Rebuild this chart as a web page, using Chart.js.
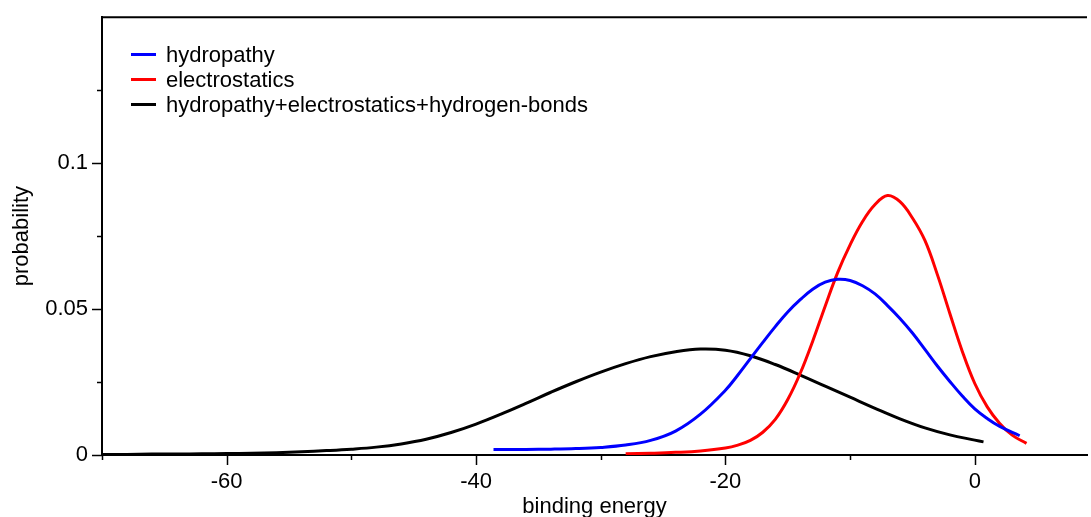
<!DOCTYPE html>
<html>
<head>
<meta charset="utf-8">
<script src="https://cdn.jsdelivr.net/npm/chart.js@4/dist/chart.umd.min.js"></script>
<style>
  html, body { margin: 0; padding: 0; background: #fff; }
  #wrap { position: relative; width: 1091px; height: 517px; }
  #legend { position: absolute; left: 131px; top: 42px; font: 22px "Liberation Sans", Arial, sans-serif; color: #000; }
  .row { height: 25px; line-height: 25px; display: flex; align-items: center; white-space: nowrap; }
  .swatch { width: 25px; height: 3px; margin-right: 10px; }
</style>
</head>
<body>
<div id="wrap">
  <canvas id="chart" width="1091" height="517"></canvas>
  <div id="legend"></div>
</div>
<script>
// values
const seriesLabels = ['hydropathy', 'electrostatics', 'hydropathy+electrostatics+hydrogen-bonds'];
const seriesColors = ['#0000ff', '#ff0000', '#000000'];

const hydroX = [-38.6, -36, -34, -32, -30, -28, -26, -24, -22, -20, -19, -18, -17, -16, -15, -14, -13, -12, -11, -10, -9, -8, -7, -6, -5, -4, -3, -2, -1, 0, 1, 2, 3.6];
const hydroY = [0.0019, 0.0019, 0.0020, 0.0022, 0.0026, 0.0034, 0.0050, 0.0082, 0.0140, 0.0222, 0.0274, 0.0330, 0.0386, 0.0440, 0.0490, 0.0532, 0.0568, 0.0592, 0.0602, 0.0598, 0.0580, 0.0552, 0.0512, 0.0468, 0.0418, 0.0362, 0.0305, 0.0252, 0.0202, 0.0158, 0.0125, 0.0098, 0.0066];

const elecX = [-28, -26, -24, -22, -20, -19, -18, -17, -16, -15, -14, -13, -12, -11, -10, -9, -8, -7, -6, -5, -4, -3, -2, -1, 0, 1, 2, 3, 4.15];
const elecY = [0.0004, 0.0006, 0.0009, 0.0014, 0.0024, 0.0034, 0.0050, 0.0078, 0.0122, 0.0190, 0.0280, 0.0390, 0.0510, 0.0625, 0.0720, 0.0800, 0.0858, 0.0889, 0.0868, 0.0812, 0.0735, 0.0618, 0.0485, 0.0355, 0.0245, 0.0165, 0.0108, 0.0068, 0.0040];

const allX = [-70, -68, -66, -64, -62, -60, -58, -56, -54, -52, -50, -48, -46, -44, -42, -40, -38, -36, -34, -32, -30, -28, -26, -24, -22, -20, -18, -16, -14, -12, -10, -8, -6, -4, -2, 0, 0.7];
const allY = [0.0002, 0.0002, 0.0003, 0.0003, 0.0004, 0.0005, 0.0006, 0.0008, 0.0011, 0.0015, 0.0020, 0.0027, 0.0038, 0.0054, 0.0077, 0.0106, 0.0140, 0.0177, 0.0215, 0.0251, 0.0284, 0.0313, 0.0337, 0.0354, 0.0363, 0.0359, 0.0340, 0.0310, 0.0274, 0.0236, 0.0198, 0.0160, 0.0124, 0.0093, 0.0069, 0.0051, 0.0045];

const xTickValues = [-60, -40, -20, 0];
const xTickLabels = ['-60', '-40', '-20', '0'];
const yTickValues = [0, 0.05, 0.1];
const yTickLabels = ['0', '0.05', '0.1'];

const FONT = { family: '"Liberation Sans", Arial, sans-serif', size: 22 };

function toPoints(xs, ys) {
    return xs.map((x, i) => ({ x: x, y: ys[i] }));
}

function labelFor(values, labels, v) {
    const i = values.findIndex(t => Math.abs(t - v) < 1e-9);
    return i >= 0 ? labels[i] : '';
}

// outward ticks (long major, short minor) and the top frame line
const frame = {
    id: 'frame',
    afterDraw(chart) {
        const { ctx, chartArea, scales } = chart;
        const x = scales.x, y = scales.y;
        ctx.save();
        ctx.strokeStyle = '#000';
        ctx.lineWidth = 2;
        ctx.beginPath();
        ctx.moveTo(chartArea.left - 1, chartArea.top);
        ctx.lineTo(chartArea.right, chartArea.top);
        ctx.stroke();
        ctx.lineWidth = 1.5;
        for (let v = -70; v <= 9; v += 10) {
            const px = Math.round(x.getPixelForValue(v)) + 0.5;
            const len = v % 20 === 0 ? 10 : 5;
            ctx.beginPath();
            ctx.moveTo(px, chartArea.bottom);
            ctx.lineTo(px, chartArea.bottom + len);
            ctx.stroke();
        }
        for (let i = 0; i <= 5; i++) {
            const py = Math.round(y.getPixelForValue(i * 0.025)) + 0.5;
            const len = i % 2 === 0 ? 10 : 5;
            ctx.beginPath();
            ctx.moveTo(chartArea.left, py);
            ctx.lineTo(chartArea.left - len, py);
            ctx.stroke();
        }
        ctx.restore();
    }
};

const datasets = [
    toPoints(hydroX, hydroY),
    toPoints(elecX, elecY),
    toPoints(allX, allY)
].map((pts, i) => ({
    label: seriesLabels[i],
    data: pts,
    borderColor: seriesColors[i],
    backgroundColor: seriesColors[i],
    borderWidth: 3,
    pointRadius: 0,
    tension: 0.4,
    fill: false
}));

const chart = new Chart(document.getElementById('chart'), {
    type: 'line',
    data: { datasets: datasets },
    options: {
        responsive: false,
        animation: false,
        layout: { padding: { top: 16, right: 0, left: 0, bottom: 0 } },
        plugins: { legend: { display: false }, tooltip: { enabled: false } },
        scales: {
            x: {
                type: 'linear',
                min: -70,
                max: 9,
                afterFit: (s) => { s.height = 62; },
                grid: { drawOnChartArea: false, drawTicks: true, tickLength: 10, color: 'rgba(0,0,0,0)' },
                border: { display: true, color: '#000', width: 2 },
                ticks: {
                    stepSize: 10,
                    autoSkip: false,
                    maxRotation: 0,
                    padding: 4,
                    color: '#000',
                    font: FONT,
                    callback: (v) => labelFor(xTickValues, xTickLabels, v)
                },
                title: { display: true, text: 'binding energy', color: '#000', font: FONT, padding: { top: 0, bottom: -3 } }
            },
            y: {
                min: 0,
                max: 0.15,
                afterFit: (s) => { s.width = 102; },
                grid: { drawOnChartArea: false, drawTicks: true, tickLength: 10, color: 'rgba(0,0,0,0)' },
                border: { display: true, color: '#000', width: 2 },
                ticks: {
                    stepSize: 0.025,
                    autoSkip: false,
                    padding: 4,
                    color: '#000',
                    font: FONT,
                    callback: (v) => labelFor(yTickValues, yTickLabels, v)
                },
                title: { display: true, text: 'probability', color: '#000', font: FONT, padding: { top: 9, bottom: 0 } }
            }
        }
    },
    plugins: [frame]
});

// legend as html, built from the datasets
const legend = document.getElementById('legend');
chart.data.datasets.forEach(ds => {
    const row = document.createElement('div');
    row.className = 'row';
    const sw = document.createElement('span');
    sw.className = 'swatch';
    sw.style.background = ds.borderColor;
    const txt = document.createElement('span');
    txt.textContent = ds.label;
    row.appendChild(sw);
    row.appendChild(txt);
    legend.appendChild(row);
});
</script>
</body>
</html>
